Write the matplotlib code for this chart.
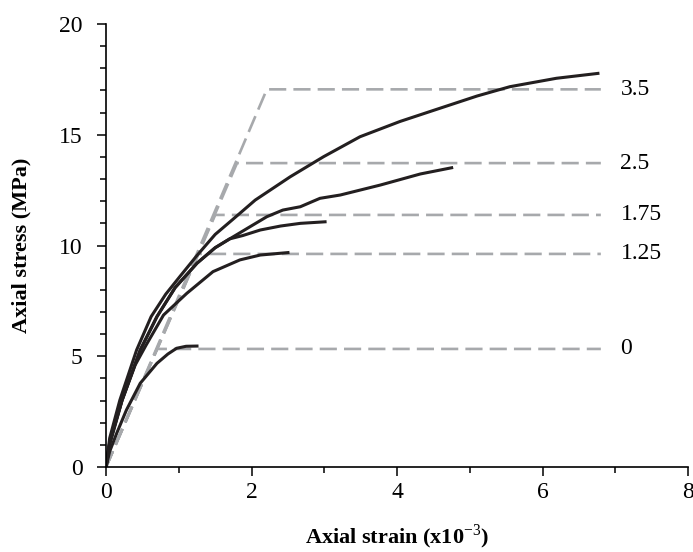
import matplotlib
matplotlib.use('Agg')
import matplotlib.pyplot as plt
from matplotlib.ticker import MultipleLocator

plt.rcParams['font.family'] = ['Liberation Serif', 'DejaVu Serif']
plt.rcParams['mathtext.fontset'] = 'custom'
plt.rcParams['mathtext.rm'] = 'Liberation Serif'
plt.rcParams['mathtext.bf'] = 'Liberation Serif:bold'

# confinement levels (labels at the right)
levels = ['0', '1.25', '1.75', '2.5', '3.5']

# idealised (dashed) envelope: yield corner strain / stress
yield_strain = [0.70, 1.27, 1.50, 1.80, 2.21]
yield_stress = [5.33, 9.62, 11.38, 13.72, 17.05]
plateau_end = 6.8

# measured curves (strain x10^-3, stress MPa)
x_0 = [0, 0.05, 0.15, 0.28, 0.47, 0.70, 0.85, 0.97, 1.10, 1.25]
y_0 = [0, 0.7, 1.55, 2.57, 3.78, 4.68, 5.1, 5.36, 5.45, 5.46]

x_125 = [0, 0.05, 0.22, 0.40, 0.55, 0.79, 1.11, 1.47, 1.84, 2.12, 2.50]
y_125 = [0, 1.0, 3.0, 4.6, 5.5, 6.86, 7.84, 8.82, 9.35, 9.57, 9.68]

x_175 = [0, 0.05, 0.22, 0.47, 0.70, 0.95, 1.25, 1.50, 1.70, 1.88, 2.12, 2.40, 2.67, 3.01]
y_175 = [0, 1.1, 3.02, 5.28, 6.79, 8.1, 9.2, 9.9, 10.3, 10.45, 10.7, 10.88, 11.0, 11.07]

x_25 = [0, 0.05, 0.22, 0.47, 0.70, 0.95, 1.25, 1.50, 1.70, 1.98, 2.21, 2.43,
        2.67, 2.94, 3.22, 3.77, 4.32, 4.75]
y_25 = [0, 1.1, 3.02, 5.28, 6.79, 8.1, 9.2, 9.9, 10.3, 10.85, 11.3, 11.6,
        11.75, 12.13, 12.28, 12.73, 13.23, 13.51]

x_35 = [0, 0.05, 0.19, 0.42, 0.62, 0.82, 1.02, 1.25, 1.50, 1.75, 2.05, 2.53, 2.99,
        3.49, 4.04, 4.50, 5.10, 5.55, 6.19, 6.76]
y_35 = [0, 1.3, 3.02, 5.28, 6.79, 7.8, 8.62, 9.55, 10.5, 11.2, 12.05, 13.1, 14.01,
        14.91, 15.6, 16.1, 16.75, 17.17, 17.55, 17.77]

curves = [(x_0, y_0), (x_125, y_125), (x_175, y_175), (x_25, y_25), (x_35, y_35)]

fig = plt.figure(figsize=(6.93, 5.52), dpi=100)
ax = fig.add_axes([0.153, 0.154, 0.840, 0.8025])

for i in range(len(levels)):
    ax.plot([0, yield_strain[i], plateau_end], [0, yield_stress[i], yield_stress[i]],
            color='#a7a9ac', lw=1.9, dashes=(6.5, 2.7), solid_capstyle='butt', zorder=1)
    ax.text(7.07, yield_stress[i], levels[i], fontsize=17, va='center', ha='left')

for xs, ys in curves:
    ax.plot(xs, ys, color='#231f20', lw=2.2, zorder=2, solid_joinstyle='round')

ax.set_xlim(0, 8)
ax.set_ylim(0, 20)
ax.xaxis.set_major_locator(MultipleLocator(2))
ax.xaxis.set_minor_locator(MultipleLocator(1))
ax.yaxis.set_major_locator(MultipleLocator(5))
ax.yaxis.set_minor_locator(MultipleLocator(1))
ax.tick_params(which='major', direction='out', length=6.5, width=1.1, labelsize=17)
ax.tick_params(which='minor', direction='out', length=4, width=1.1)
ax.tick_params(axis='x', which='major', pad=4.5)
ax.tick_params(axis='y', which='major', pad=10.5)

ax.spines['top'].set_visible(False)
ax.spines['right'].set_visible(False)
ax.spines['left'].set_linewidth(1.2)
ax.spines['bottom'].set_linewidth(1.2)

ax.set_xlabel(r'Axial strain (x10$^{\mathrm{-3}}$)', fontsize=16, fontweight='bold', labelpad=14)
ax.set_ylabel('Axial stress (MPa)', fontsize=16, fontweight='bold', labelpad=20)

fig.savefig('out.png', dpi=100)
